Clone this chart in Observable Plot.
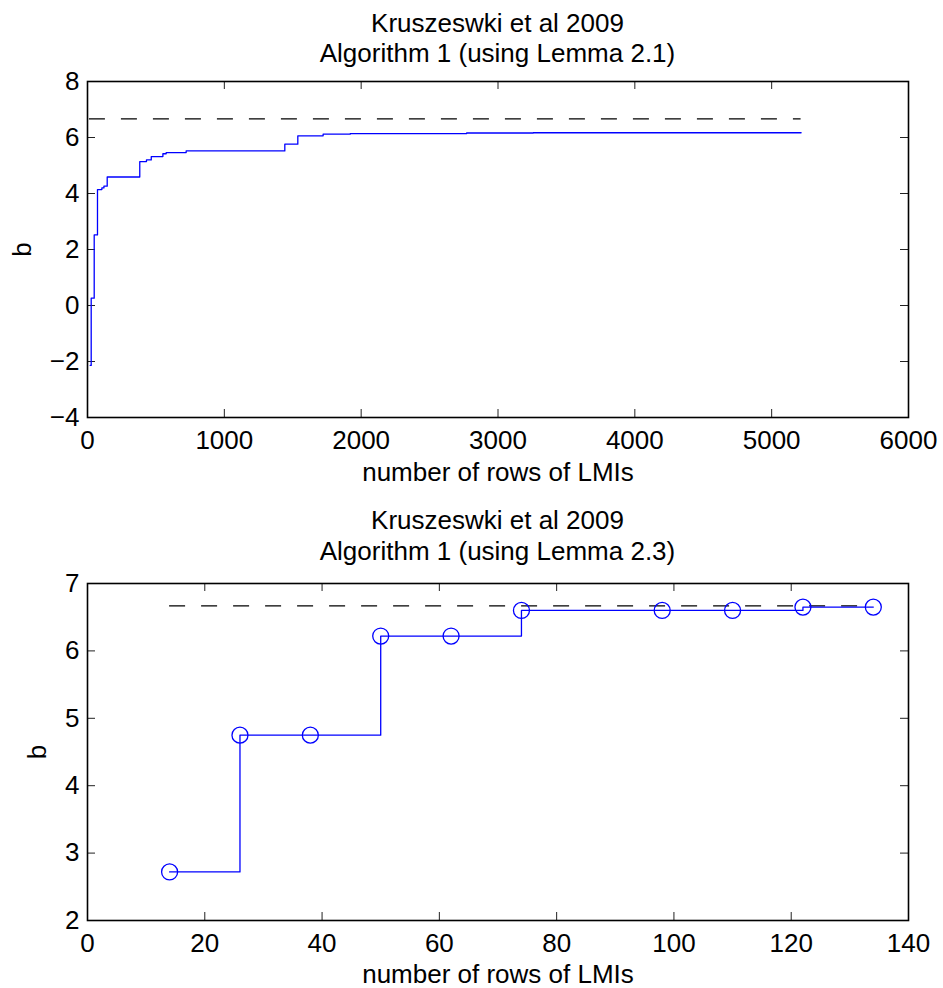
<!DOCTYPE html>
<html>
<head>
<meta charset="utf-8">
<script src="https://cdn.jsdelivr.net/npm/d3@7"></script>
<script src="https://cdn.jsdelivr.net/npm/@observablehq/plot@0.6"></script>
<style>
  html, body { margin: 0; padding: 0; background: #fff; }
  body { width: 943px; font-family: "Liberation Sans", Arial, Helvetica, sans-serif; color: #000; }
  .title { font-size: 26px; text-align: center; box-sizing: border-box; width: 943px; padding-left: 87px; padding-right: 35px; }
  #t1 { padding-top: 8px; line-height: 30px; height: 68px; }
  #t2 { padding-top: 11px; line-height: 31px; height: 73px; }
  svg { display: block; }
</style>
</head>
<body>
<div class="title" id="t1"><div>Kruszeswki et al 2009</div><div>Algorithm 1 (using Lemma 2.1)</div></div>
<div id="p1"></div>
<div class="title" id="t2"><div>Kruszeswki et al 2009</div><div>Algorithm 1 (using Lemma 2.3)</div></div>
<div id="p2"></div>
<script>
// ---- Data: top panel (Lemma 2.1) ----
const topRows = [20, 27, 49, 73, 105, 120, 144, 382, 431, 466, 551, 575, 721, 1442, 1537, 1722, 1920, 2771, 3258, 5215];
const topB    = [-2.14, 0.26, 2.52, 4.14, 4.20, 4.26, 4.59, 5.14, 5.20, 5.32, 5.42, 5.46, 5.52, 5.76, 6.06, 6.12, 6.14, 6.16, 6.17, 6.17];
const topBoundRows = [14, 5215];
const topXTicks = [0, 1000, 2000, 3000, 4000, 5000, 6000];
const topYTicks = [-4, -2, 0, 2, 4, 6, 8];

// ---- Data: bottom panel (Lemma 2.3) ----
const botRows = [14, 26, 38, 50, 62, 74, 98, 110, 122, 134];
const botB    = [2.72, 4.75, 4.75, 6.22, 6.22, 6.60, 6.60, 6.60, 6.65, 6.65];
const botBoundRows = [14, 134];
const botXTicks = [0, 20, 40, 60, 80, 100, 120, 140];
const botYTicks = [2, 3, 4, 5, 6, 7];

const boundValue = 6.667;
const xLabel = "number of rows of LMIs";
const yLabel = "b";

function panel({rows, b, boundRows, xTicks, yTicks, markers, height, marginTop, marginBottom, yLabelDx, xLabelDy}) {
  const marginLeft = 87, marginRight = 35, width = 943;
  const innerH = height - marginTop - marginBottom;
  const innerW = width - marginLeft - marginRight;
  const data = rows.map((r, i) => ({rows: r, b: b[i]}));
  const tk = 8;
  const marks = [
    Plot.tickX(xTicks, {x: d => d, insetTop: innerH - tk, stroke: "#222", strokeWidth: 1}),
    Plot.tickX(xTicks, {x: d => d, insetBottom: innerH - tk, stroke: "#222", strokeWidth: 1}),
    Plot.tickY(yTicks, {y: d => d, insetRight: innerW - tk, stroke: "#222", strokeWidth: 1}),
    Plot.tickY(yTicks, {y: d => d, insetLeft: innerW - tk, stroke: "#222", strokeWidth: 1}),
    Plot.axisX(xTicks, {tickSize: 0, tickPadding: 13, label: null, tickFormat: "d"}),
    Plot.axisY(yTicks, {tickSize: 0, tickPadding: 8, label: null, tickFormat: "d"}),
    Plot.ruleY([boundValue], {y: d => d, x1: boundRows[0], x2: boundRows[1], stroke: "#000", strokeWidth: 1.2, strokeDasharray: "16,16"}),
    Plot.line(data, {x: "rows", y: "b", curve: "step-after", stroke: "#0000ff", strokeWidth: 1.3}),
  ];
  if (markers) marks.push(Plot.dot(data, {x: "rows", y: "b", r: 8, stroke: "#0000ff", fill: "none", strokeWidth: 1.3}));
  marks.push(
    Plot.frame({stroke: "#000", strokeWidth: 1.6}),
    Plot.text([xLabel], {text: d => d, frameAnchor: "bottom", lineAnchor: "middle", textAnchor: "middle", dy: xLabelDy, fill: "#000"}),
    Plot.text([yLabel], {text: d => d, frameAnchor: "left", lineAnchor: "middle", textAnchor: "middle", dx: yLabelDx, rotate: -90, fill: "#000"})
  );
  return Plot.plot({
    width, height, marginLeft, marginRight, marginTop, marginBottom,
    style: {fontFamily: '"Liberation Sans", Arial, Helvetica, sans-serif', fontSize: "26px", color: "#000", background: "#fff", overflow: "visible"},
    x: {domain: [xTicks[0], xTicks[xTicks.length - 1]]},
    y: {domain: [yTicks[0], yTicks[yTicks.length - 1]]},
    marks
  });
}

document.getElementById("p1").append(panel({
  rows: topRows, b: topB, boundRows: topBoundRows, xTicks: topXTicks, yTicks: topYTicks,
  markers: false, height: 426, marginTop: 13, marginBottom: 77, yLabelDx: -65, xLabelDy: 55
}));
document.getElementById("p2").append(panel({
  rows: botRows, b: botB, boundRows: botBoundRows, xTicks: botXTicks, yTicks: botYTicks,
  markers: true, height: 421, marginTop: 16, marginBottom: 68, yLabelDx: -50, xLabelDy: 54
}));
</script>
</body>
</html>
